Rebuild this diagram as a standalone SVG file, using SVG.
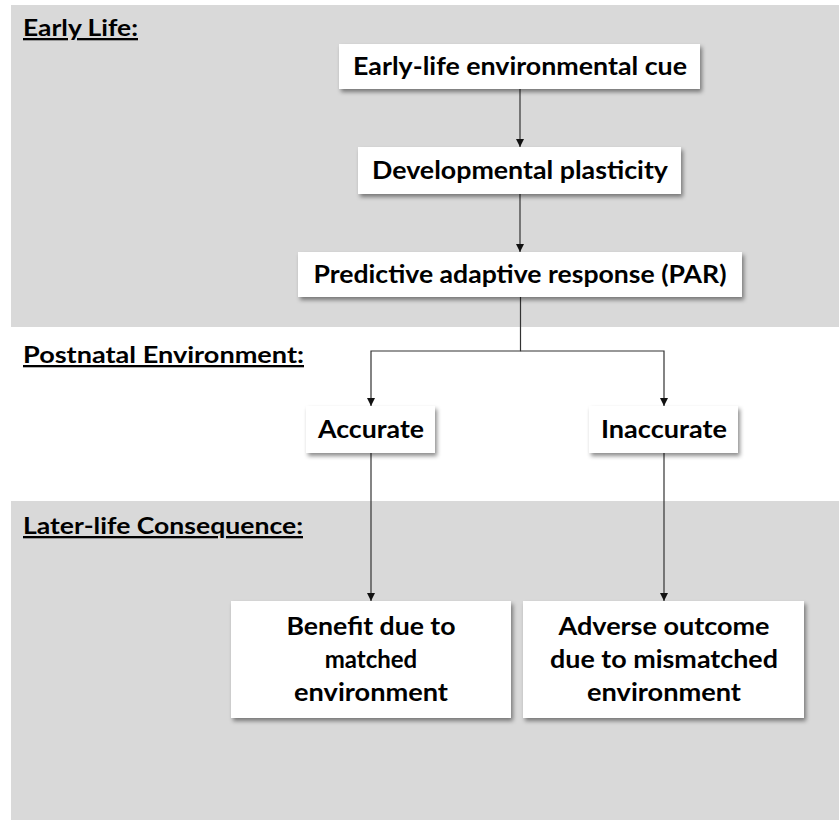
<svg xmlns="http://www.w3.org/2000/svg" width="840" height="820" viewBox="0 0 840 820">
<defs>
<style>
.band{fill:#d9d9d9}
.box{fill:#ffffff;filter:url(#sh)}
.t{font-family:Lato,"Open Sans","Liberation Sans",sans-serif;font-weight:bold;font-size:24px;fill:#000;text-anchor:middle}
.h{font-family:Lato,"Open Sans","Liberation Sans",sans-serif;font-weight:bold;font-size:23px;fill:#000;text-decoration:underline}
.c{stroke:#333;stroke-width:1.2;fill:none}
</style>
<filter id="sh" x="-10%" y="-20%" width="130%" height="150%">
<feDropShadow dx="2" dy="3" stdDeviation="2" flood-color="#000" flood-opacity="0.45"/>
</filter>
<marker id="ah" viewBox="0 0 10 10" refX="10" refY="5" markerWidth="8" markerHeight="8" markerUnits="userSpaceOnUse" orient="auto">
<path d="M0,0 L10,5 L0,10 Z" fill="#111"/>
</marker>
</defs>
<rect width="840" height="820" fill="#ffffff"/>
<rect class="band" x="11" y="5" width="828" height="322"/>
<rect class="band" x="11" y="501" width="828" height="319"/>
<g id="heading-early">
<text class="h" x="23" y="36" textLength="115" lengthAdjust="spacingAndGlyphs">Early Life:</text>
</g>
<g id="heading-postnatal">
<text class="h" x="23" y="363" textLength="281" lengthAdjust="spacingAndGlyphs">Postnatal Environment:</text>
</g>
<g id="heading-later">
<text class="h" x="23" y="534" textLength="280" lengthAdjust="spacingAndGlyphs">Later-life Consequence:</text>
</g>
<g id="connectors">
<line class="c" x1="520" y1="89" x2="520" y2="147" marker-end="url(#ah)"/>
<line class="c" x1="520" y1="194" x2="520" y2="252" marker-end="url(#ah)"/>
<polyline class="c" points="520.5,297 520.5,351 371,351 371,406" marker-end="url(#ah)"/>
<polyline class="c" points="520.5,351 664,351 664,406" marker-end="url(#ah)"/>
<line class="c" x1="371" y1="453" x2="371" y2="601" marker-end="url(#ah)"/>
<line class="c" x1="664" y1="453" x2="664" y2="601" marker-end="url(#ah)"/>
</g>
<g id="node-cue">
<rect class="box" x="339" y="44" width="361" height="45"/>
<text class="t" x="520" y="75" textLength="334" lengthAdjust="spacingAndGlyphs">Early-life environmental cue</text>
</g>
<g id="node-plasticity">
<rect class="box" x="358" y="147" width="323" height="47"/>
<text class="t" x="520" y="179" textLength="296" lengthAdjust="spacingAndGlyphs">Developmental plasticity</text>
</g>
<g id="node-par">
<rect class="box" x="298" y="252" width="444" height="45"/>
<text class="t" x="520" y="283" textLength="413" lengthAdjust="spacingAndGlyphs">Predictive adaptive response (PAR)</text>
</g>
<g id="node-accurate">
<rect class="box" x="306" y="406" width="129" height="47"/>
<text class="t" x="371" y="438" textLength="106" lengthAdjust="spacingAndGlyphs">Accurate</text>
</g>
<g id="node-inaccurate">
<rect class="box" x="589" y="406" width="149" height="47"/>
<text class="t" x="664" y="438" textLength="126" lengthAdjust="spacingAndGlyphs">Inaccurate</text>
</g>
<g id="node-benefit">
<rect class="box" x="231" y="601" width="280" height="117"/>
<text class="t" x="371" y="635" textLength="169" lengthAdjust="spacingAndGlyphs">Benefit due to</text>
<text class="t" x="371" y="668">matched</text>
<text class="t" x="371" y="701" textLength="154" lengthAdjust="spacingAndGlyphs">environment</text>
</g>
<g id="node-adverse">
<rect class="box" x="523" y="601" width="281" height="117"/>
<text class="t" x="664" y="635" textLength="211" lengthAdjust="spacingAndGlyphs">Adverse outcome</text>
<text class="t" x="664" y="668" textLength="228" lengthAdjust="spacingAndGlyphs">due to mismatched</text>
<text class="t" x="664" y="701" textLength="154" lengthAdjust="spacingAndGlyphs">environment</text>
</g>
</svg>
